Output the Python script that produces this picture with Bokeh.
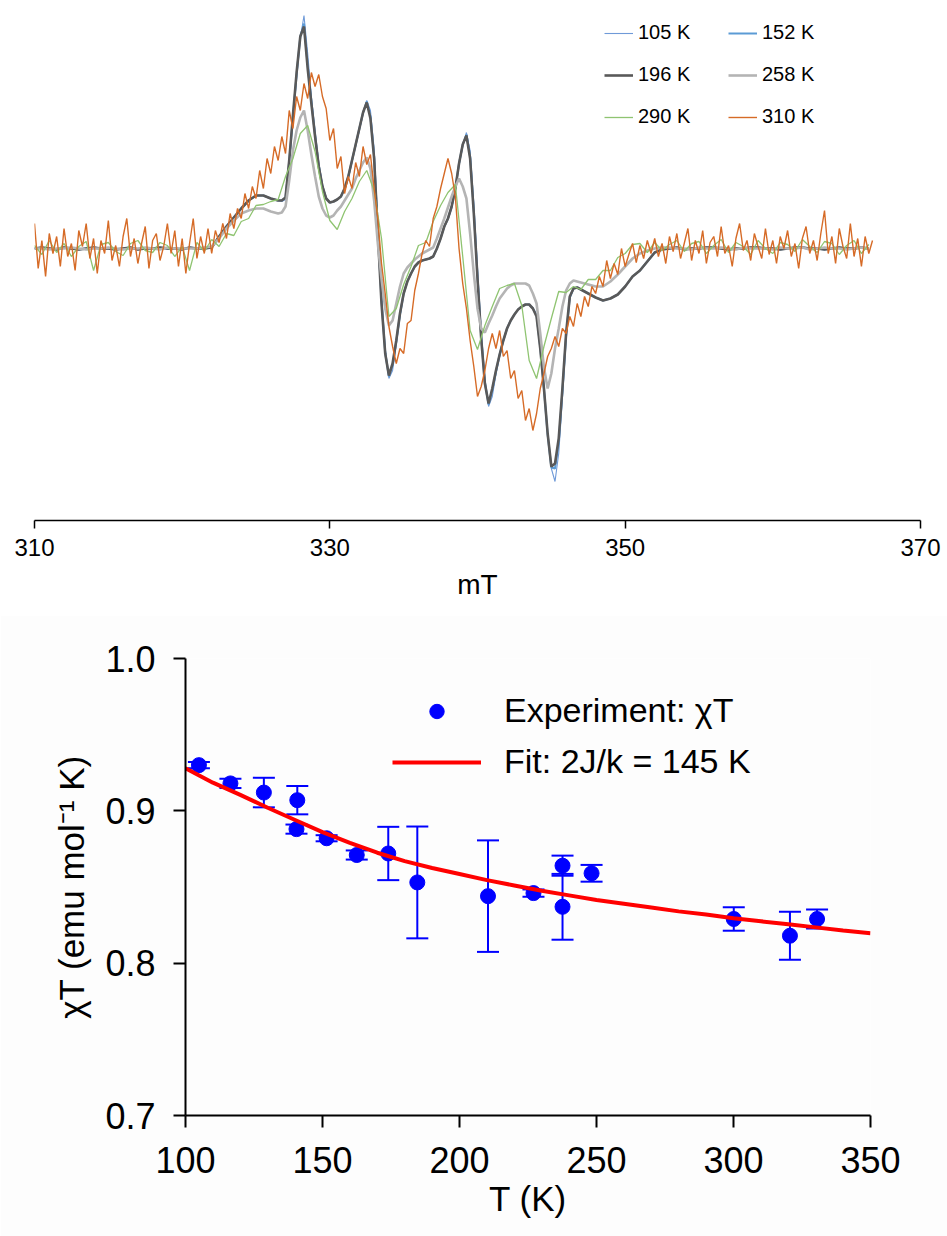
from bokeh.plotting import figure
from bokeh.models import (Range1d, FixedTicker, PrintfTickFormatter, Legend, LegendItem,
                          ColumnDataSource, Whisker, TeeHead)
from bokeh.embed import file_html
from bokeh.resources import INLINE

FONT = "Liberation Sans"

# ---------------- EPR spectra (top) ----------------
# field grids (mT)
field_smooth = ([310 + 0.5 * i for i in range(32)] +      # 310.0 - 325.5
                [326 + 0.25 * i for i in range(85)] +     # 326.0 - 347.0
                [347.5 + 0.5 * i for i in range(39)])     # 347.5 - 366.5
field_half = [310 + 0.5 * i for i in range(114)]
field_quarter = [310 + 0.25 * i for i in range(228)]

epr_196K = [
    0, 1, 0, -1, 1, 0, -1, 0, 1, 0, 0, -1, 0, 1, -1, 0,                  # 310-317.5
    0, 1, 0, 0, -1, 1, 0, 0, 1, 12, 22, 31, 40, 48, 53, 53,               # 318-325.5
    50, 49, 48, 48, 51, 88, 133, 176,                                     # 326-327.75
    212, 222, 180, 145, 112, 82, 62, 50,                                  # 328-329.75
    46, 47, 49, 52, 60, 72, 88, 104,                                      # 330-331.75
    120, 136, 146, 130, 90, 15, -55, -105,                                # 332-333.75
    -127, -115, -92, -65, -45, -33, -25, -18,                             # 334-335.75
    -14, -12, -11, -10, -8, 0, 10, 22,                                    # 336-337.75
    30, 42, 60, 85, 104, 113, 90, 35,                                     # 338-339.75
    -30, -90, -135, -155, -140, -122, -106, -92,                          # 340-341.75
    -80, -72, -66, -61, -58, -56, -56, -60,                               # 342-343.75
    -68, -100, -140, -185, -218, -215, -190, -140,                        # 344-345.75
    -85, -48, -40, -39, -41,                                              # 346-347.0
    -45, -49, -52, -50, -46, -38, -28, -22, -13, -4,                      # 347.5-352
    -1, 0, 1, -1, 0, 0, 1, 1, 0, -1, 0, 0, 1, 1, 0,                       # 352.5-359.5
    0, -1, 0, 1, 1, 0, 0, -1, 0, 1, 0, 0, 1, 0,                           # 360-366.5
]

epr_105K = [
    0, 1, 0, -1, 1, 0, -1, 0, 1, 0, 0, -1, 0, 1, -1, 0,
    0, 1, 0, 0, -1, 1, 0, 0, 1, 12, 22, 31, 40, 48, 53, 53,
    50, 49, 48, 47, 49, 84, 128, 170,
    210, 233, 195, 152, 118, 86, 64, 51,
    46, 47, 49, 52, 59, 70, 86, 102,
    118, 134, 148, 138, 100, 25, -48, -100,
    -130, -122, -96, -68, -46, -33, -25, -18,
    -14, -12, -11, -10, -8, 0, 10, 21,
    29, 40, 58, 83, 102, 116, 98, 45,
    -20, -82, -130, -158, -148, -126, -108, -93,
    -80, -72, -66, -61, -58, -56, -56, -59,
    -66, -96, -138, -185, -220, -233, -205, -150,
    -92, -50, -40, -39, -41,
    -45, -49, -52, -50, -46, -38, -28, -22, -13, -4,
    -1, 0, 1, -1, 0, 0, 1, 1, 0, -1, 0, 0, 1, 1, 0,
    0, -1, 0, 1, 1, 0, 0, -1, 0, 1, 0, 0, 1, 0,
]

epr_152K = [
    0, 1, 0, -1, 1, 0, -1, 0, 1, 0, 0, -1, 0, 1, -1, 0,
    0, 1, 0, 0, -1, 1, 0, 0, 1, 12, 22, 31, 40, 48, 53, 53,
    50, 49, 48, 48, 51, 87, 131, 174,
    212, 225, 183, 147, 113, 83, 62, 50,
    46, 47, 49, 52, 60, 72, 88, 104,
    120, 136, 147, 132, 92, 18, -52, -104,
    -128, -117, -93, -66, -45, -33, -25, -18,
    -14, -12, -11, -10, -8, 0, 10, 22,
    30, 42, 60, 85, 104, 114, 92, 38,
    -27, -88, -134, -156, -142, -123, -106, -92,
    -80, -72, -66, -61, -58, -56, -56, -60,
    -67, -99, -140, -186, -219, -220, -194, -143,
    -87, -49, -40, -39, -41,
    -45, -49, -52, -50, -46, -38, -28, -22, -13, -4,
    -1, 0, 1, -1, 0, 0, 1, 1, 0, -1, 0, 0, 1, 1, 0,
    0, -1, 0, 1, 1, 0, 0, -1, 0, 1, 0, 0, 1, 0,
]

epr_258K = [
    0, 0, -1, 0, 0, 1, 0, -1, 0, 0, 1, 0, -1, 0, 0, 1,
    0, -1, 1, 0, 0, 0, 0, 1, 2, 10, 20, 28, 35, 38, 40, 40,
    37, 36, 35, 36, 42, 68, 98, 118,
    131, 138, 118, 94, 72, 52, 40, 33,
    31, 33, 38, 42, 48, 54, 60, 70,
    78, 86, 91, 80, 48, 5, -30, -60,
    -77, -72, -55, -38, -25, -19, -15, -11,
    -8, -5, -3, -1, 1, 10, 20, 30,
    41, 52, 62, 70, 62, 50, 15, -25,
    -60, -80, -84, -75, -67, -58, -50, -45,
    -40, -37, -35, -35, -35, -35, -37, -45,
    -55, -85, -119, -140, -125, -100, -80, -58,
    -42, -35, -32, -33, -34,
    -36, -38, -38, -33, -26, -18, -10, -5, -2, 0,
    1, 1, 0, 0, -1, 1, 0, 0, 1, 0, -1, 1, 0, 0, 0,
    -1, 1, 0, 0, 1, -1, 0, 1, 0, 0, -1, 0, 1, 0,
]

epr_290K = [
    3, -6, 8, -4, 5, -8, 2, 7, -22, 4, 6, -3, -7, 5, 8, -2, -4, 6, 3, -8,   # 310-319.5
    2, -22, 6, -3, 9, 2, 15, 13, 27, 30, 43, 44, 47, 49, 72, 90,             # 320-327.5
    115, 123, 97, 57, 28, 19, 37, 50, 67, 78, 58, 10,                        # 328-333.5
    -68, -60, -36, -18, 3, 6, 27, 43, 56, 64, -8, -82,                       # 334-339.5
    -101, -77, -58, -40, -37, -35, -57, -112, -130, -98, -70, -43,           # 340-345.5
    -44, -38, -41, -31, -31, -22, -22, -9, -5, 4, 5, -4,                     # 346-351.5
    6, -2, 4, 8, -3, 5, 7, -5, 3, 9, -4, 6, 2, -6, 8, 0,                     # 352-359.5
    -5, 6, 4, -3, 9, 2, -4, 7, 5, -6, 3, 8, -5, 4,                           # 360-366.5
]

epr_310K = [
    25, -20, 8, -28,   15, -5, 12, -18,   20, -8, 5, -22,   18, 2, 25, -10,      # 310-313
    10, -25, 8, -5,    28, -12, 3, -18,   12, 30, -8, 10,   -15, 5, 22, -20,     # 314-317
    8, 15, -12, 2,     25, -5, 18, -18,   10, -25, 5, 30,   -10, 12, -5, 20,     # 318-321
    -5, 18, 6, 25,     10, 35, 20, 40,    30, 55, 40, 62,   50, 78, 60, 90,      # 322-325
    75, 102, 88, 112,  95, 138, 120, 152, 138, 165, 150, 176, 162, 174, 152, 140,  # 326-329
    108, 120, 80, 92,  55, 72, 60, 86,    72, 102, 84, 94,  60, 30, -15, -45,    # 330-333
    -78, -98, -115, -100, -105, -75, -72, -42, -25, -5, 8, 2, 30, 42, 60, 75,   # 334-337
    90, 75, 52, 0,     -35, -60, -92, -118, -148, -138, -122, -100, -85, -100, -82, -108,  # 338-341
    -102, -130, -122, -150, -142, -172, -160, -182, -165, -140, -125, -108, -100, -88, -98, -80,  # 342-345
    -85, -68, -78, -55, -68, -48, -58, -38, -45, -28, -38, -12, -30, -15, -26, 0,  # 346-349
    -18, -6, 5, -14,   3, -10, 8, -5,      10, -8, 5, -15,   12, -3, 15, -10,     # 350-353
    5, 20, -12, 8,     -5, 18, -15, 6,    12, -8, 22, -5,   3, -18, 10, 25,      # 354-357
    -2, 8, -12, 15,    2, -10, 20, -6,    8, -15, 12, 0,    18, -8, 5, -20,      # 358-361
    10, 22, -5, 8,     -12, 15, 38, -5,   12, -15, 20, 2,   -10, 25, -8, 10,     # 362-365
    -18, 12, -5, 8,                                                              # 366
]

assert len(field_smooth) == 156
for s in (epr_105K, epr_152K, epr_196K, epr_258K):
    assert len(s) == 156, len(s)
assert len(epr_290K) == 114 and len(epr_310K) == 228

field_ticks = [310, 330, 350, 370]

top = figure(width=947, height=615, output_backend="svg", toolbar_location=None,
             x_range=Range1d(310, 370), y_range=Range1d(-272, 248),
             y_axis_location=None, min_border_left=34, min_border_right=27,
             min_border_top=0, min_border_bottom=95)
top.outline_line_color = None
top.xgrid.visible = False
top.ygrid.visible = False

r105 = top.line(field_smooth, epr_105K, line_color="#6f9ad8", line_width=1.1)
r152 = top.line(field_smooth, epr_152K, line_color="#5b9bd5", line_width=2.0)
r196 = top.line(field_smooth, epr_196K, line_color="#595959", line_width=2.6)
r258 = top.line(field_smooth, epr_258K, line_color="#b4b4b4", line_width=2.6)
r290 = top.line(field_half, epr_290K, line_color="#8fc471", line_width=1.3)
r310 = top.line(field_quarter, epr_310K, line_color="#d66b27", line_width=1.4)

ax = top.xaxis[0]
ax.ticker = FixedTicker(ticks=field_ticks)
ax.axis_label = "mT"
ax.axis_label_text_font = FONT
ax.axis_label_text_font_size = "28px"
ax.axis_label_text_font_style = "normal"
ax.axis_label_text_color = "black"
ax.axis_label_standoff = 10
ax.major_label_text_font = FONT
ax.major_label_text_font_size = "24px"
ax.major_label_text_color = "black"
ax.major_label_standoff = 10
ax.axis_line_width = 1.5
ax.axis_line_color = "black"
ax.major_tick_line_width = 1.5
ax.major_tick_line_color = "black"
ax.major_tick_in = 0
ax.major_tick_out = 8
ax.minor_tick_line_color = None

for items, xloc in (([("105 K", r105), ("196 K", r196), ("290 K", r290)], 570),
                    ([("152 K", r152), ("258 K", r258), ("310 K", r310)], 694)):
    leg = Legend(items=[LegendItem(label=l, renderers=[r]) for l, r in items],
                 location=(xloc, 392), orientation="vertical")
    leg.label_text_font = FONT
    leg.label_text_font_size = "20px"
    leg.label_text_color = "black"
    leg.glyph_width = 29
    leg.glyph_height = 20
    leg.label_height = 20
    leg.label_standoff = 5
    leg.spacing = 19
    leg.padding = 0
    leg.margin = 0
    leg.border_line_color = None
    leg.background_fill_alpha = 0
    top.add_layout(leg)

# ---------------- chi*T vs T (bottom) ----------------
T_exp = [104.9, 116.4, 128.6, 140.8, 140.5, 151.5, 162.5, 174.0, 184.6,
         210.4, 227.0, 237.6, 237.6, 248.2, 300.1, 320.6, 330.5]
chiT_exp = [0.930, 0.918, 0.912, 0.907, 0.888, 0.882, 0.871, 0.872, 0.853,
            0.844, 0.846, 0.864, 0.837, 0.859, 0.829, 0.818, 0.829]
chiT_err = [0.002, 0.003, 0.0097, 0.0093, 0.003, 0.002, 0.003, 0.0175, 0.0367,
            0.0366, 0.0024, 0.0066, 0.0216, 0.0055, 0.0077, 0.0157, 0.0062]

T_fit = [100, 110, 120, 130, 140, 150, 160, 170, 180, 190, 200, 210, 220,
         230, 240, 250, 260, 270, 280, 290, 300, 310, 320, 330, 340, 350]
chiT_fit = [0.928, 0.9185, 0.9105, 0.902, 0.894, 0.886, 0.879, 0.8725, 0.867,
            0.8625, 0.8585, 0.8545, 0.851, 0.8475, 0.8445, 0.8415, 0.839, 0.8365,
            0.834, 0.832, 0.8295, 0.8275, 0.8255, 0.8235, 0.8215, 0.8197]

T_ticks = [100, 150, 200, 250, 300, 350]
chiT_ticks = [0.7, 0.8, 0.9, 1.0]

src = ColumnDataSource(dict(T=T_exp, v=chiT_exp,
                            upper=[a + b for a, b in zip(chiT_exp, chiT_err)],
                            lower=[a - b for a, b in zip(chiT_exp, chiT_err)]))

bot = figure(width=947, height=621, output_backend="svg", toolbar_location=None,
             x_range=Range1d(100, 350), y_range=Range1d(0.7, 1.0),
             min_border_left=185, min_border_right=77,
             min_border_top=43, min_border_bottom=121)
bot.outline_line_color = None
bot.xgrid.visible = False
bot.ygrid.visible = False
bot.background_fill_color = "#fdfdfd"
bot.border_fill_color = "#fdfdfd"

wh = Whisker(base="T", upper="upper", lower="lower", source=src,
             line_color="#0000ff", line_width=2,
             upper_head=TeeHead(size=22, line_color="#0000ff", line_width=2),
             lower_head=TeeHead(size=22, line_color="#0000ff", line_width=2))
bot.add_layout(wh)
rexp = bot.scatter("T", "v", source=src, size=15, color="#0000ff", marker="circle")
rfit = bot.line(T_fit, chiT_fit, line_color="#ff0000", line_width=4)

bx = bot.xaxis[0]
bx.ticker = FixedTicker(ticks=T_ticks)
bx.axis_label = "T (K)"
by = bot.yaxis[0]
by.ticker = FixedTicker(ticks=chiT_ticks)
by.formatter = PrintfTickFormatter(format="%.1f")
by.axis_label = "χT (emu mol⁻¹ K)"
for a in (bx, by):
    a.axis_label_text_font = FONT
    a.axis_label_text_font_size = "35px"
    a.axis_label_text_font_style = "normal"
    a.axis_label_text_color = "black"
    a.major_label_text_font = FONT
    a.major_label_text_font_size = "36px"
    a.major_label_text_color = "black"
    a.axis_line_width = 2
    a.axis_line_color = "black"
    a.major_tick_line_width = 2
    a.major_tick_line_color = "black"
    a.major_tick_in = 0
    a.major_tick_out = 12
    a.minor_tick_line_color = None
bx.major_label_standoff = 19
bx.axis_label_standoff = 3
by.major_label_standoff = 18
by.axis_label_standoff = 11

bleg = Legend(items=[LegendItem(label="Experiment: χT", renderers=[rexp]),
                     LegendItem(label="Fit: 2J/k = 145 K", renderers=[rfit])],
              location=(207, 334), orientation="vertical")
bleg.label_text_font = FONT
bleg.label_text_font_size = "34px"
bleg.label_text_color = "black"
bleg.glyph_width = 89
bleg.glyph_height = 36
bleg.label_height = 36
bleg.label_standoff = 23
bleg.spacing = 12
bleg.padding = 0
bleg.margin = 0
bleg.border_line_color = None
bleg.background_fill_alpha = 0
bot.add_layout(bleg)

# two independent roots, stacked (no frame alignment between them)
open("out.html", "w").write(file_html([top, bot], INLINE))
